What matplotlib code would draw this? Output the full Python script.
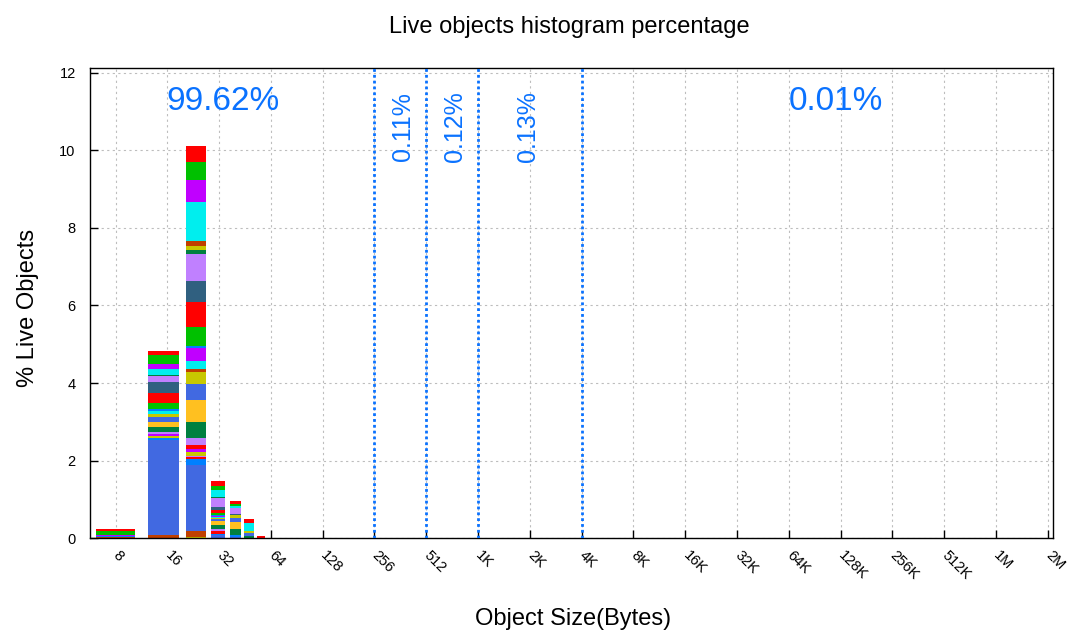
import numpy as np
import matplotlib
matplotlib.use("Agg")
import matplotlib.pyplot as plt

plt.rcParams["font.family"] = ["Liberation Sans", "DejaVu Sans"]

# Object size classes (bytes) that hold live objects
sizes = [8, 16, 24, 32, 40, 48, 56, 64, 80, 96, 112, 128, 160, 192, 224, 256,
         320, 384, 448, 512, 640, 768, 1024, 1536, 2048, 3072, 4096, 8192, 65536]

# Per-size share (% of live objects) for each stacked series, keyed by series index
seg_8 = {0: 0.05, 1: 0.10, 3: 0.025, 10: 0.01, 38: 0.025, 43: 0.01, 53: 0.02}
seg_16 = {0: 0.103, 1: 0.240, 3: 0.129, 4: 0.147, 9: 0.033, 10: 0.155, 11: 0.276,
          12: 0.258, 13: 0.162, 14: 0.044, 16: 0.085, 18: 0.077, 19: 0.129,
          20: 0.129, 21: 0.129, 22: 0.044, 27: 0.052, 30: 0.041, 38: 0.070,
          43: 2.428, 53: 0.088, 54: 0.008}
seg_24 = {0: 0.412, 1: 0.489, 3: 0.567, 4: 1.004, 5: 0.129, 6: 0.103, 9: 0.103,
          10: 0.695, 11: 0.533, 12: 0.652, 13: 0.482, 14: 0.052, 15: 0.343,
          16: 0.206, 17: 0.077, 18: 0.309, 19: 0.412, 20: 0.567, 21: 0.412,
          22: 0.180, 24: 0.103, 27: 0.064, 30: 0.116, 34: 0.026, 36: 0.052,
          38: 0.136, 43: 1.718, 53: 0.147, 54: 0.033}
seg_32 = {0: 0.129, 1: 0.103, 4: 0.198, 9: 0.018, 10: 0.224, 11: 0.077, 12: 0.077,
          13: 0.070, 14: 0.020, 15: 0.020, 16: 0.026, 18: 0.035, 19: 0.050,
          20: 0.095, 21: 0.110, 22: 0.060, 36: 0.070, 38: 0.030, 43: 0.075}
seg_40 = {0: 0.086, 1: 0.052, 4: 0.060, 10: 0.155, 11: 0.026, 18: 0.077,
          19: 0.095, 20: 0.180, 21: 0.155, 38: 0.060, 43: 0.020}
seg_48 = {0: 0.086, 1: 0.018, 4: 0.206, 18: 0.052, 19: 0.060, 21: 0.070}
seg_56 = {0: 0.045, 4: 0.015}
seg_tail = [
    {9: 0.010, 43: 0.006},      # 64
    {11: 0.008},                # 80
    {5: 0.008, 6: 0.004},       # 96
    {4: 0.006},                 # 112
    {9: 0.008},                 # 128
    {4: 0.015},                 # 160
    {6: 0.006},                 # 192
    {3: 0.005},                 # 224
    {11: 0.008},                # 256
    {5: 0.006},                 # 320
    {6: 0.005},                 # 384
    {3: 0.004},                 # 448
    {9: 0.006},                 # 512
    {6: 0.005},                 # 640
    {10: 0.004},                # 768
    {5: 0.005},                 # 1024
    {6: 0.004},                 # 1536
    {3: 0.004},                 # 2048
    {5: 0.004},                 # 3072
    {9: 0.003},                 # 4096
    {10: 0.002},                # 8192
    {3: 0.002},                 # 65536
]
segments = [seg_8, seg_16, seg_24, seg_32, seg_40, seg_48, seg_56] + seg_tail

# Share of live objects in each size band, and where the band label sits
band_labels = ["99.62%", "0.11%", "0.12%", "0.13%", "0.01%"]
band_label_x = [2 ** 5.075, 2 ** 8.55, 2 ** 9.55, 2 ** 10.96, 2 ** 16.91]
band_label_rot = [0, 90, 90, 90, 0]
band_edges = [256, 512, 1024, 4096]

tick_values = [2 ** k for k in range(3, 22)]
tick_labels = ["8", "16", "32", "64", "128", "256", "512", "1K", "2K", "4K",
               "8K", "16K", "32K", "64K", "128K", "256K", "512K", "1M", "2M"]

palette = ["#ff0000", "#00c000", "#0080ff", "#c000ff", "#00eeee", "#c04000",
           "#c8c800", "#4169e1", "#ffc020", "#008040", "#c080ff", "#306080"]
accent = "#0a72ff"

n_series = 1 + max(k for seg in segments for k in seg)
values = np.zeros((n_series, len(sizes)))
for j, seg in enumerate(segments):
    for k, v in seg.items():
        values[k, j] = v

# Box extents: 3/8 of the log-distance to each neighbour
lx = np.log2(sizes)
d_left = np.diff(lx, prepend=lx[0] - (lx[1] - lx[0]))
d_right = np.diff(lx, append=lx[-1] + (lx[-1] - lx[-2]))
left_edge = 2 ** (lx - 0.375 * d_left)
right_edge = 2 ** (lx + 0.375 * d_right)
widths = right_edge - left_edge

fig = plt.figure(figsize=(10.68, 6.30), dpi=100)
ax = fig.add_axes([0.0839, 0.1456, 0.9021, 0.7471])
ax.set_xscale("log", base=2)

for k in range(n_series):
    bottom = values[k + 1:].sum(axis=0)
    mask = values[k] > 0
    if not mask.any():
        continue
    ax.bar(left_edge[mask], values[k][mask], width=widths[mask],
           bottom=bottom[mask], align="edge", color=palette[k % 12],
           linewidth=0, zorder=2)

ax.set_xlim(2 ** 2.5, 2 ** 21.1)
ax.set_ylim(0, 12.13)

for xe in band_edges:
    ax.axvline(xe, color=accent, lw=2.0, linestyle=(0, (1, 1.1)),
               dash_capstyle="butt", zorder=3)

for txt, xp, rot in zip(band_labels, band_label_x, band_label_rot):
    if rot == 0:
        ax.text(xp, 11.04, txt, color=accent, fontsize=24, ha="center",
                va="baseline", zorder=4)
    else:
        ax.text(xp, 10.6, txt, color=accent, fontsize=18, ha="center",
                va="center", rotation=90, zorder=4)

ax.set_xticks(tick_values)
ax.set_xticklabels(tick_labels, rotation=-45, ha="left", va="center",
                   rotation_mode="anchor", fontsize=10.5)
ax.xaxis.set_minor_locator(matplotlib.ticker.NullLocator())
ax.set_yticks(range(0, 13, 2))
ax.tick_params(axis="both", direction="in", length=6, width=1, color="black")
ax.tick_params(axis="y", labelsize=10.5, pad=10)
ax.tick_params(axis="x", pad=11)

ax.grid(True, color="#bdbdbd", linestyle=(0, (2, 3)), linewidth=0.8, zorder=0)
ax.set_axisbelow(True)
for sp in ax.spines.values():
    sp.set_linewidth(1.0)
    sp.set_color("black")

fig.text(0.533, 1 - 27 / 630, "Live objects histogram percentage",
         ha="center", va="center", fontsize=17)
fig.text(0.537, 1 - 619 / 630, "Object Size(Bytes)", ha="center",
         va="center", fontsize=17)
fig.text(28 / 1068, 1 - 308 / 630, "% Live Objects", ha="center",
         va="center", rotation=90, fontsize=17)

fig.savefig("out.png", dpi=100)
